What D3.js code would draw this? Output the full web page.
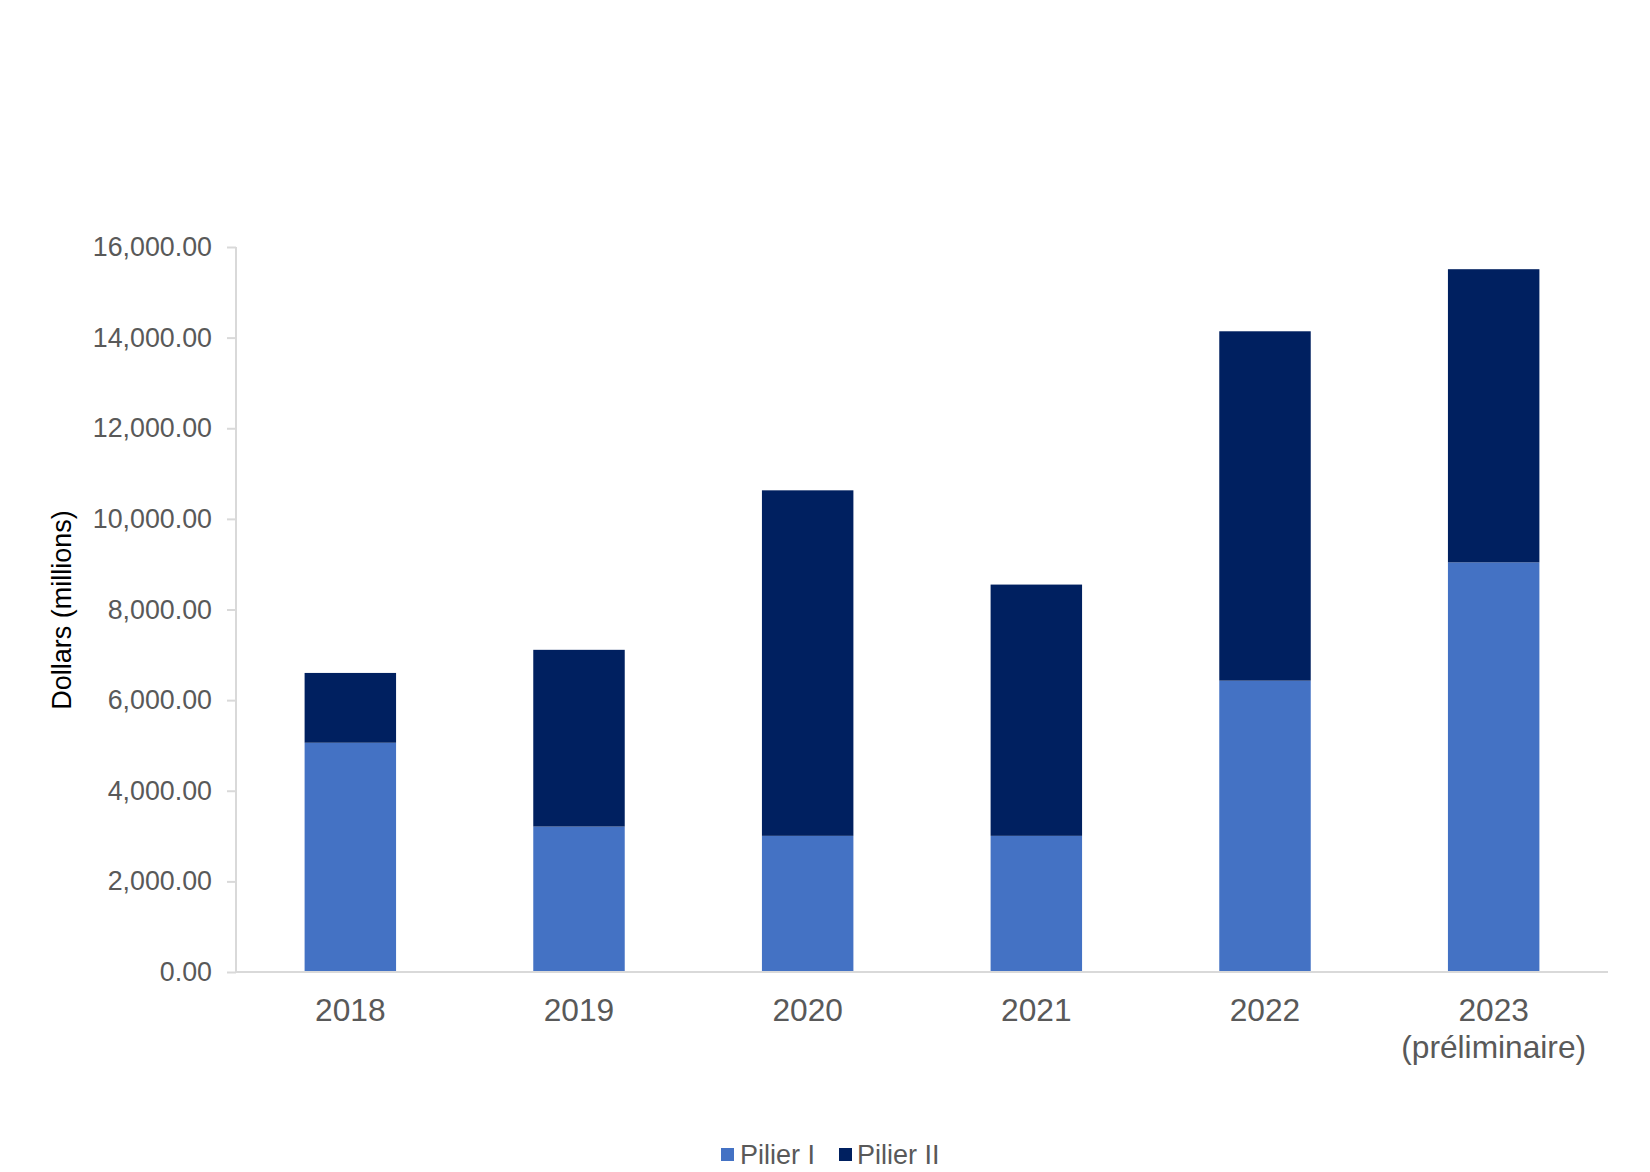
<!DOCTYPE html>
<html>
<head>
<meta charset="utf-8">
<script src="https://cdnjs.cloudflare.com/ajax/libs/d3/7.8.5/d3.min.js"></script>
<style>
  html, body { margin: 0; padding: 0; background: #ffffff; }
  svg { display: block; font-family: "Liberation Sans", Arial, sans-serif; }
</style>
</head>
<body>
<svg id="chart" width="1650" height="1172"></svg>
<script>
// ---- data ----
const categories = ["2018", "2019", "2020", "2021", "2022", "2023"];
const categoryLabels = [["2018"], ["2019"], ["2020"], ["2021"], ["2022"], ["2023", "(préliminaire)"]];
const seriesNames = ["Pilier I", "Pilier II"];
const pilierI = [5060, 3210, 3005, 3005, 6430, 9040];
const pilierII = [1540, 3900, 7625, 5545, 7710, 6470];
const yTicks = [0, 2000, 4000, 6000, 8000, 10000, 12000, 14000, 16000];
const yTitle = "Dollars (millions)";
const colors = ["#4472C4", "#002060"];

// ---- layout ----
const svg = d3.select("#chart");
const mLeft = 236, mRight = 1608, mTop = 247, mBottom = 972;

const x = d3.scaleBand().domain(categories).range([mLeft, mRight])
  .paddingInner(0.6).paddingOuter(0.3);
const y = d3.scaleLinear().domain([0, 16000]).range([mBottom, mTop]);

const rows = categories.map((c, i) => ({ cat: c, "Pilier I": pilierI[i], "Pilier II": pilierII[i] }));
const stacked = d3.stack().keys(seriesNames)(rows);

// bars
svg.append("g").selectAll("g").data(stacked).join("g")
  .attr("fill", (d, i) => colors[i])
  .selectAll("rect").data(d => d).join("rect")
  .attr("x", d => x(d.data.cat))
  .attr("width", x.bandwidth())
  .attr("y", d => y(d[1]))
  .attr("height", d => y(d[0]) - y(d[1]));

// y axis
const yAxis = svg.append("g").attr("transform", `translate(${mLeft},0)`)
  .call(d3.axisLeft(y).tickValues(yTicks).tickFormat(d3.format(",.2f")).tickSize(9).tickPadding(15));
yAxis.select(".domain").attr("stroke", "#d9d9d9").attr("stroke-width", 2).attr("d", `M0,${mTop}V${mBottom}`);
yAxis.selectAll(".tick line").attr("stroke", "#d9d9d9").attr("stroke-width", 2);
yAxis.selectAll(".tick text").attr("fill", "#595959").attr("font-size", "26.8px")
  .attr("font-family", "'Liberation Sans', Arial, sans-serif");

// x axis line
svg.append("line").attr("x1", mLeft - 1).attr("x2", mRight).attr("y1", mBottom).attr("y2", mBottom)
  .attr("stroke", "#d9d9d9").attr("stroke-width", 2);

// x labels
const xl = svg.append("g").selectAll("text").data(categories).join("text")
  .attr("x", d => x(d) + x.bandwidth() / 2)
  .attr("y", 1021)
  .attr("text-anchor", "middle")
  .attr("fill", "#595959")
  .attr("font-size", "31.7px");
xl.each(function (d, i) {
  const t = d3.select(this);
  categoryLabels[i].forEach((line, j) => {
    t.append("tspan").attr("x", x(d) + x.bandwidth() / 2).attr("dy", j === 0 ? 0 : 37).text(line);
  });
});

// y title
svg.append("text")
  .attr("transform", "translate(71,610) rotate(-90)")
  .attr("text-anchor", "middle")
  .attr("fill", "#000000")
  .attr("font-size", "27px")
  .text(yTitle);

// legend
const legendItems = [
  { name: seriesNames[0], color: colors[0], sx: 721, tx: 740 },
  { name: seriesNames[1], color: colors[1], sx: 839, tx: 857 }
];
const lg = svg.append("g");
legendItems.forEach(it => {
  lg.append("rect").attr("x", it.sx).attr("y", 1148).attr("width", 13).attr("height", 13).attr("fill", it.color);
  lg.append("text").attr("x", it.tx).attr("y", 1164).attr("fill", "#595959").attr("font-size", "27px").text(it.name);
});
</script>
</body>
</html>
